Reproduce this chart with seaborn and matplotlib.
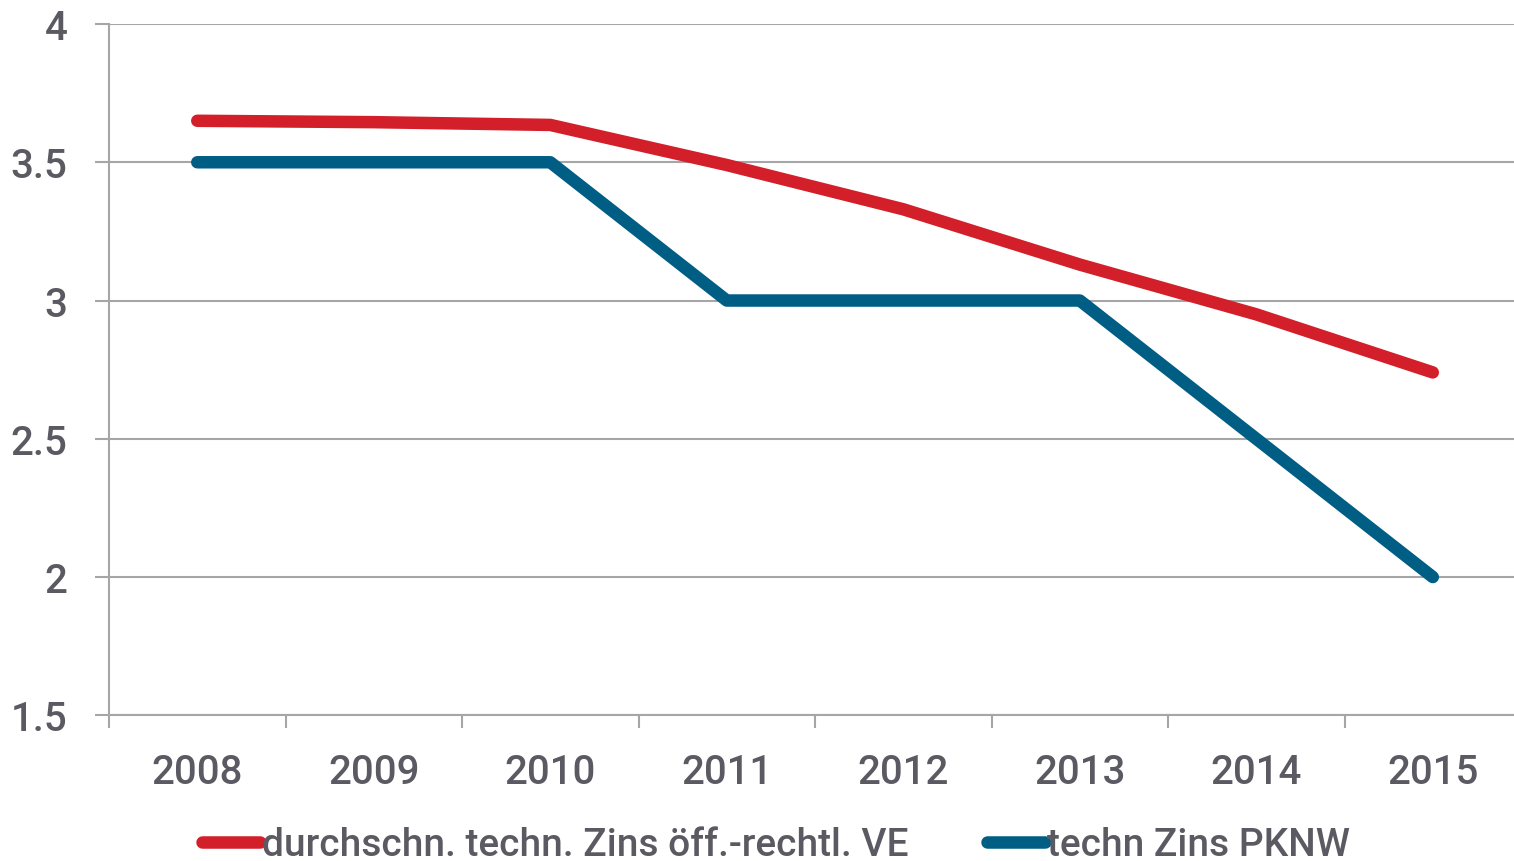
import pandas as pd
import matplotlib.pyplot as plt
import seaborn as sns

years = ["2008", "2009", "2010", "2011", "2012", "2013", "2014", "2015"]
red_vals = [3.65, 3.645, 3.635, 3.49, 3.33, 3.13, 2.95, 2.74]
blue_vals = [3.5, 3.5, 3.5, 3.0, 3.0, 3.0, 2.5, 2.0]
red_name = "durchschn. techn. Zins öff.-rechtl. VE"
blue_name = "techn Zins PKNW"

df = pd.DataFrame({
    "x": list(range(len(years))) * 2,
    "val": red_vals + blue_vals,
    "serie": [red_name] * len(years) + [blue_name] * len(years),
})

sns.set_style("white")
plt.rcParams['font.family'] = ['Roboto', 'DejaVu Sans']
txt = "#5b5a62"
grid = "#a6a6a8"

fig = plt.figure(figsize=(15.14, 8.62), dpi=100)
ax = fig.add_axes([0.072, 0.169, 0.928, 0.802])

sns.lineplot(data=df, x="x", y="val", hue="serie",
             palette={red_name: "#d21f29", blue_name: "#005e85"},
             linewidth=9, solid_capstyle="round", ax=ax, legend=False)

ax.set_xlim(-0.5, 7.46)
ax.set_ylim(1.5, 4)
ax.set_yticks([1.5, 2, 2.5, 3, 3.5, 4])
ax.set_yticklabels(["1.5", "2", "2.5", "3", "3.5", "4"])
ax.set_xticks(range(len(years)))
ax.set_xticklabels(years)
ax.set_xticks([i - 0.5 for i in range(len(years))], minor=True)
ax.tick_params(axis="x", which="major", bottom=True, length=0, pad=27, labelsize=29, colors=txt)
ax.tick_params(axis="x", which="minor", bottom=True, length=9, width=1.5, color=grid, direction="out")
ax.tick_params(axis="y", left=True, length=10, width=1.5, color=grid, direction="out",
               pad=20, labelsize=29, labelcolor=txt)
for lab in ax.get_yticklabels() + ax.get_xticklabels():
    lab.set_fontweight("medium")

ax.grid(axis="y", color=grid, linewidth=1.5)
ax.set_axisbelow(True)
for s in ["top", "right"]:
    ax.spines[s].set_visible(False)
ax.spines["left"].set_color(grid)
ax.spines["left"].set_linewidth(1.5)
ax.spines["bottom"].set_color(grid)
ax.spines["bottom"].set_linewidth(1.5)
ax.set_xlabel("")
ax.set_ylabel("")

handles = [plt.Line2D([], [], color="#d21f29", linewidth=9, solid_capstyle="round"),
           plt.Line2D([], [], color="#005e85", linewidth=9, solid_capstyle="round")]
leg = fig.legend(handles, [red_name, blue_name], loc="center", ncol=2,
                 bbox_to_anchor=(0.5125, 0.019), frameon=False, fontsize=28,
                 handlelength=1.5, handletextpad=0.05, columnspacing=2.0,
                 borderpad=0, borderaxespad=0)
for t in leg.get_texts():
    t.set_color(txt)
    t.set_fontweight("medium")

fig.savefig("out.png", dpi=100)
